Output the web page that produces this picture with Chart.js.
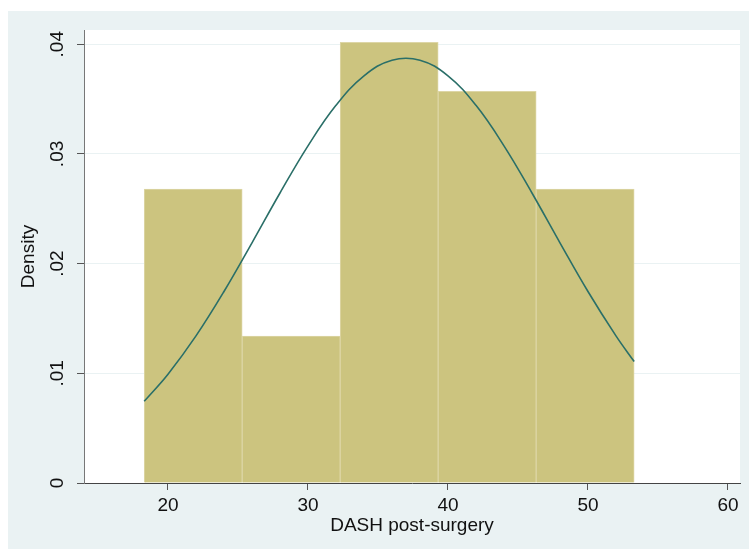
<!DOCTYPE html>
<html lang="en">
<head>
    <meta charset="UTF-8">
    <title>DASH post-surgery</title>
    <style>
        body { margin: 0; background: #ffffff; }
        #wrap { width: 749px; height: 550px; }
    </style>
</head>
<body>
    <div id="wrap"><canvas id="chart" width="749" height="550"></canvas></div>

    <script src="https://cdn.jsdelivr.net/npm/chart.js"></script>
    <script>
        // Histogram bins (width 7, starting at 18.3)
        var binCenters = [21.8, 28.8, 35.8, 42.8, 49.8];
        var binDensity = [0.02679, 0.01339, 0.04018, 0.03571, 0.02679];

        // Normal density curve
        var curveX = [18.3, 20, 22, 24, 26, 28, 30, 32, 34, 36, 38, 40, 42, 44, 46, 48, 50, 52, 53.3];
        var curveY = [0.00745, 0.00992, 0.01341, 0.01746, 0.02190, 0.02644, 0.03074, 0.03443, 0.03712, 0.03855,
                      0.03855, 0.03712, 0.03443, 0.03074, 0.02644, 0.02190, 0.01746, 0.01341, 0.01107];

        var xTicks = [20, 30, 40, 50, 60];
        var yTicks = [0, 0.01, 0.02, 0.03, 0.04];

        var font = 'Liberation Sans, Arial, sans-serif';

        // Hintergrund: grauer Rahmen, weisser Plotbereich
        var bgPlugin = {
            id: 'bg',
            beforeDraw: function (chart) {
                var c = chart.ctx, a = chart.chartArea;
                c.save();
                c.fillStyle = '#ffffff';
                c.fillRect(0, 0, chart.width, chart.height);
                c.fillStyle = '#eaf2f3';
                c.fillRect(8, 11, chart.width - 8, chart.height - 12);
                c.fillStyle = '#ffffff';
                c.fillRect(a.left, a.top, a.right - a.left, a.bottom - a.top);
                c.restore();
            }
        };

        var ctx = document.getElementById('chart').getContext('2d');
        var chart = new Chart(ctx, {
            data: {
                datasets: [{
                    type: 'line',
                    data: curveX.map(function (x, i) { return { x: x, y: curveY[i] }; }),
                    borderColor: '#2a6f68',
                    borderWidth: 1.6,
                    pointRadius: 0,
                    tension: 0.4,
                    fill: false
                }, {
                    type: 'bar',
                    data: binCenters.map(function (x, i) { return { x: x, y: binDensity[i] }; }),
                    backgroundColor: '#ccc47f',
                    borderColor: '#ddd6a6',
                    borderWidth: 1,
                    barPercentage: 1,
                    categoryPercentage: 1
                }]
            },
            options: {
                responsive: false,
                animation: false,
                layout: { padding: { top: 30, right: 9, left: 0, bottom: 0 } },
                plugins: { legend: { display: false }, tooltip: { enabled: false } },
                scales: {
                    x: {
                        type: 'linear',
                        min: 14,
                        max: 60.86,
                        offset: false,
                        afterFit: function (s) { s.height = 67; },
                        afterBuildTicks: function (s) { s.ticks = xTicks.map(function (v) { return { value: v }; }); },
                        grid: { offset: false, drawOnChartArea: false, tickLength: 7, tickColor: '#555555' },
                        border: { color: '#444444', width: 1 },
                        ticks: { color: '#111111', font: { family: font, size: 19 }, padding: 4, maxRotation: 0 },
                        title: {
                            display: true,
                            text: 'DASH post-surgery',
                            color: '#111111',
                            font: { family: font, size: 19 },
                            padding: { top: 0, bottom: 13 }
                        }
                    },
                    y: {
                        min: 0,
                        max: 0.0413,
                        afterFit: function (s) { s.width = 84; },
                        afterBuildTicks: function (s) { s.ticks = yTicks.map(function (v) { return { value: v }; }); },
                        grid: { color: '#eaf2f3', tickLength: 7, tickColor: '#555555' },
                        border: { color: '#777777', width: 1 },
                        ticks: {
                            color: '#111111',
                            font: { family: font, size: 19 },
                            padding: 6,
                            minRotation: 90,
                            maxRotation: 90,
                            crossAlign: 'center',
                            callback: function (v) { return v === 0 ? '0' : String(v).replace(/^0/, ''); }
                        },
                        title: {
                            display: true,
                            text: 'Density',
                            color: '#111111',
                            font: { family: font, size: 19 },
                            padding: { top: 17, bottom: 0 }
                        }
                    }
                }
            },
            plugins: [bgPlugin]
        });
    </script>
</body>
</html>
